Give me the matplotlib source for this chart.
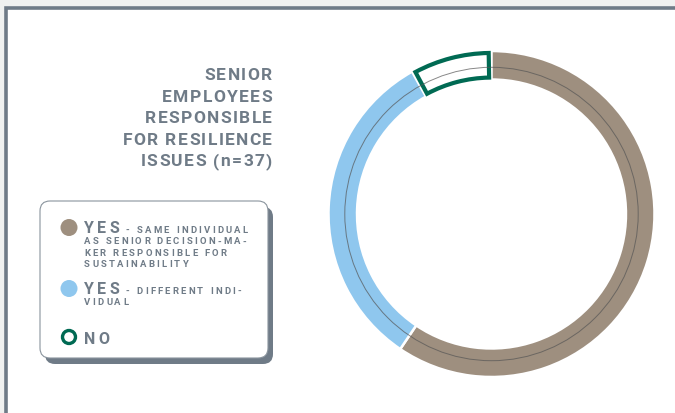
import numpy as np
import matplotlib.pyplot as plt
from matplotlib.patches import Rectangle, FancyBboxPatch, Circle

# survey answers (n=37)
labels = ['YES - same individual', 'YES - different individual', 'NO']
counts = [22, 12, 3]
colors = ['#9e8f7f', '#8fc7ee', '#006a53']

title_lines = ['SENIOR', 'EMPLOYEES', 'RESPONSIBLE', 'FOR RESILIENCE', 'ISSUES (n=37)']
legend_head = ['YES', 'YES', 'NO']
legend_small = [['- SAME INDIVIDUAL', 'AS SENIOR DECISION-MA-', 'KER RESPONSIBLE FOR', 'SUSTAINABILITY'],
                ['- DIFFERENT INDI-', 'VIDUAL'],
                []]

grey = '#6f7b87'
W, H = 675, 414

fig = plt.figure(figsize=(W / 100, H / 100), dpi=100, facecolor='#f0f1f0')
bg = fig.add_axes([0, 0, 1, 1])
bg.set_xlim(0, W)
bg.set_ylim(H, 0)
bg.axis('off')

# frame
bg.add_patch(Rectangle((6, 9), 720, 450, facecolor='white', edgecolor=grey, lw=2.6))

renderer = fig.canvas.get_renderer()


def spaced(x, y, s, track, ha='left', **kw):
    """text with letter spacing, drawn char by char"""
    px = kw.get('size', 10) * 100 / 72
    items = []
    cx = x
    for ch in s:
        t = bg.text(cx, y, ch, va='baseline', ha='left', **kw)
        if ch == ' ':
            w = px * 0.25
        else:
            w = t.get_window_extent(renderer).width
        items.append(t)
        cx += w + track
    end = cx - track
    if ha == 'right':
        shift = x - end
        for t in items:
            t.set_x(t.get_position()[0] + shift)
        end = x
    return end


# title
for i, line in enumerate(title_lines):
    spaced(272, 80 + i * 21.6, line, 1.4, ha='right', size=12.5, color=grey,
           family='Roboto', weight='bold')

# legend box with shadow
bg.add_patch(FancyBboxPatch((45, 208), 228, 157, boxstyle='round,pad=0,rounding_size=10',
                            facecolor=grey, edgecolor='none'))
bg.add_patch(FancyBboxPatch((40, 202), 228, 157, boxstyle='round,pad=0,rounding_size=10',
                            facecolor='white', edgecolor='#8a949d', lw=0.8))

rows_y = [233, 294, 344]
for i in range(3):
    y = rows_y[i]
    if i < 2:
        bg.add_patch(Circle((69, y - 4.5), 8.5, facecolor=colors[i], edgecolor='none'))
    else:
        bg.add_patch(Circle((69, y - 6), 6.5, facecolor='none', edgecolor=colors[i], lw=2.4))
    end = spaced(84, y, legend_head[i], 3.5, size=11.5, color=grey, family='Roboto', weight='bold')
    for j, s in enumerate(legend_small[i]):
        x0 = end + 6 if j == 0 else 84
        spaced(x0, y + j * 11.5, s, 2.3, size=6.8, color=grey, family='Roboto', weight='bold')

# donut
cx, cy, R = 491.5, 215, 163
pax = fig.add_axes([(cx - R) / W, (H - cy - R) / H, 2 * R / W, 2 * R / H])
ring = 0.175
wedges, _ = pax.pie(counts, colors=colors, startangle=90, counterclock=False, radius=1,
                    wedgeprops=dict(width=ring, edgecolor='white', linewidth=1.8))

no = wedges[2]
no.set_facecolor('none')
no.set_edgecolor(colors[2])
no.set_linewidth(3.0)
no.set_radius(1 - 0.012)
no.set_width(ring - 0.024)
no.set_theta1(no.theta1 + 1.0)
no.set_theta2(no.theta2 - 1.0)

pax.add_patch(Circle((0, 0), 0.9, fill=False, lw=0.7, ec='#555555', alpha=0.7, zorder=5))
pax.set_xlim(-1, 1)
pax.set_ylim(-1, 1)
pax.set_aspect('equal')
pax.axis('off')

fig.savefig('out.png', dpi=100, facecolor=fig.get_facecolor())
